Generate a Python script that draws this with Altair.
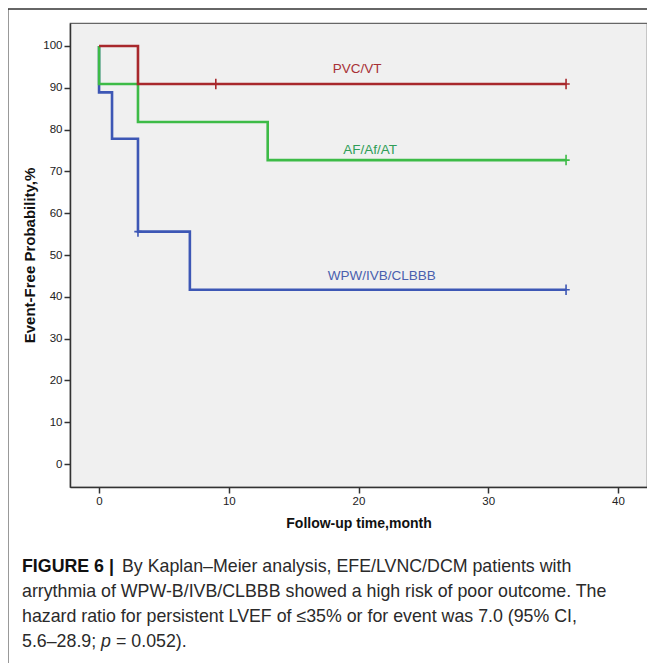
import altair as alt
import pandas as pd

# ---- data ----
pvc_t = [0, 3, 36]
pvc_s = [100, 90.9, 90.9]
af_t = [0, 0, 3, 13, 36]
af_s = [100, 90.9, 81.8, 72.7, 72.7]
wpw_t = [0, 0, 1, 3, 7, 36]
wpw_s = [100, 88.9, 77.8, 55.6, 41.7, 41.7]

pvc_cens_t = [9, 36]
pvc_cens_s = [90.9, 90.9]
af_cens_t = [36]
af_cens_s = [72.7]
wpw_cens_t = [3, 36]
wpw_cens_s = [55.6, 41.7]

groups = ["PVC/VT", "AF/Af/AT", "WPW/IVB/CLBBB"]
label_t = [19.9, 20.9, 21.8]
label_s = [94.4, 75.2, 45.0]

x_ticks = [0, 10, 20, 30, 40]
y_ticks = [0, 10, 20, 30, 40, 50, 60, 70, 80, 90, 100]

caption_bold = "FIGURE 6 |"
caption_lines = [
    "By Kaplan\u2013Meier analysis, EFE/LVNC/DCM patients with",
    "arrythmia of WPW-B/IVB/CLBBB showed a high risk of poor outcome. The",
    "hazard ratio for persistent LVEF of \u226435% or for event was 7.0 (95% CI,",
]
caption_last = ["5.6\u201328.9; ", "p", "= 0.052)."]

RED = "#a8282c"
GREEN = "#3dbb47"
BLUE = "#3d57b5"

W, H = 577, 464
xs = alt.Scale(domain=[-2.24, 42.24], nice=False, zero=False)
ys = alt.Scale(domain=[-5.5, 105.5], nice=False, zero=False)

xax = alt.Axis(values=x_ticks, title="Follow-up time,month", grid=False,
               labelFontSize=11.5, labelColor="#222", tickSize=6, tickColor="#333",
               domainColor="#333", domainWidth=1.5, tickWidth=1.5,
               titleFontSize=14, titleFontWeight="bold", titleColor="#111",
               titlePadding=10, labelPadding=2, labelFont="Liberation Sans",
               titleFont="Liberation Sans")
yax = alt.Axis(values=y_ticks, title="Event-Free Probability,%", grid=False,
               labelFontSize=11.5, labelColor="#222", tickSize=6, tickColor="#333",
               domainColor="#333", domainWidth=1.5, tickWidth=1.5,
               titleFontSize=15, titleFontWeight="bold", titleColor="#111",
               titlePadding=5, labelPadding=2, labelFont="Liberation Sans",
               titleFont="Liberation Sans")


def X():
    return alt.X("t:Q", scale=xs, axis=xax)


def Y():
    return alt.Y("s:Q", scale=ys, axis=yax)


def curve(t, s, color):
    df = pd.DataFrame({"t": t, "s": s, "i": list(range(len(t)))})
    return alt.Chart(df).mark_line(interpolate="step-after", color=color,
                                   strokeWidth=2.6).encode(x=X(), y=Y(), order="i:Q")


def cens(t, s, color):
    df = pd.DataFrame({"t": t, "s": s})
    return alt.Chart(df).mark_point(
        shape="M-0.7,0L0.7,0M0,-1L0,1", size=110, filled=False,
        color=color, strokeWidth=1.6, opacity=1
    ).encode(x=X(), y=Y())


lab_df = pd.DataFrame({"g": groups, "t": label_t, "s": label_s})
labels = alt.Chart(lab_df).mark_text(fontSize=13.5, font="Liberation Sans",
                                     baseline="middle").encode(
    x=X(), y=Y(), text="g:N",
    color=alt.Color("g:N", scale=alt.Scale(domain=groups,
                                           range=["#a83036", "#2f9e57", "#4a5fae"]),
                    legend=None),
)

one = pd.DataFrame({"a": [0]})
frame_left = alt.Chart(one).mark_rule(color="#777", strokeWidth=1.5).encode(
    x=alt.value(-62), y=alt.value(-14), y2=alt.value(660))
frame_top = alt.Chart(one).mark_rule(color="#333", strokeWidth=1.5).encode(
    x=alt.value(-62), x2=alt.value(577), y=alt.value(-14))

cap_font = "Liberation Sans"
cap_size = 17.8
cap_color = "#2a2a2a"
base_y = 549
step = 25
cap_layers = [
    alt.Chart(one).mark_text(align="left", baseline="alphabetic", fontSize=cap_size,
                             font=cap_font, fontWeight="bold", color="#111").encode(
        x=alt.value(-48), y=alt.value(base_y), text=alt.value(caption_bold))
]
for k, line in enumerate(caption_lines):
    cap_layers.append(
        alt.Chart(one).mark_text(align="left", baseline="alphabetic", fontSize=cap_size,
                                 font=cap_font, color=cap_color).encode(
            x=alt.value(52 if k == 0 else -48), y=alt.value(base_y + step * k),
            text=alt.value(line)))
last_x = [-48, 31, 46]
for part, px in zip(caption_last, last_x):
    cap_layers.append(
        alt.Chart(one).mark_text(align="left", baseline="alphabetic", fontSize=cap_size,
                                 font=cap_font, color=cap_color,
                                 fontStyle="italic" if part == "p" else "normal").encode(
            x=alt.value(px), y=alt.value(base_y + step * 3), text=alt.value(part)))

chart = alt.layer(
    curve(wpw_t, wpw_s, BLUE),
    curve(af_t, af_s, GREEN),
    curve(pvc_t, pvc_s, RED),
    cens(wpw_cens_t, wpw_cens_s, BLUE),
    cens(af_cens_t, af_cens_s, GREEN),
    cens(pvc_cens_t, pvc_cens_s, RED),
    labels,
    frame_left,
    frame_top,
    *cap_layers,
).properties(
    width=W, height=H,
    autosize=alt.AutoSizeParams(type="none"),
    padding={"left": 62, "top": 15, "right": 0, "bottom": 176},
    background="white",
).configure_view(fill="#f0f0f0", stroke="#666", strokeWidth=1.2)

chart.save("out.html", embed_options={"renderer": "svg", "actions": False})
